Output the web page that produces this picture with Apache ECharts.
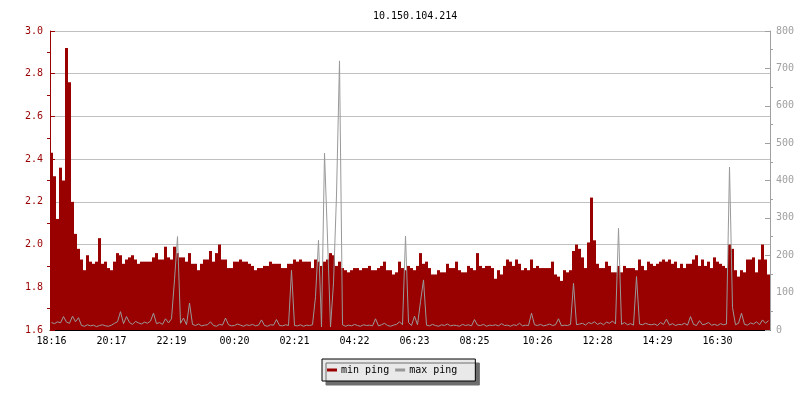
<!DOCTYPE html>
<html>
<head>
<meta charset="utf-8">
<script src="https://cdn.jsdelivr.net/npm/echarts@6/dist/echarts.min.js"></script>
<style>
  html, body { margin: 0; padding: 0; background: #fff; }
  #chart { width: 800px; height: 400px; }
</style>
</head>
<body>
<div id="chart"></div>
<script>
// one sample every 6 minutes, 18:16 -> 18:16 next day
const minPing = [
  2.43, 2.32, 2.12, 2.36, 2.30, 2.92, 2.76, 2.20, 2.05, 1.98,
  1.93, 1.88, 1.95, 1.92, 1.91, 1.92, 2.03, 1.91, 1.92, 1.89,
  1.88, 1.92, 1.96, 1.95, 1.91, 1.93, 1.94, 1.95, 1.93, 1.91,
  1.92, 1.92, 1.92, 1.92, 1.94, 1.96, 1.93, 1.93, 1.99, 1.94,
  1.93, 1.99, 1.96, 1.94, 1.94, 1.92, 1.96, 1.91, 1.91, 1.88,
  1.91, 1.93, 1.93, 1.97, 1.92, 1.96, 2.00, 1.93, 1.93, 1.89,
  1.89, 1.92, 1.92, 1.93, 1.92, 1.92, 1.91, 1.90, 1.88, 1.89,
  1.89, 1.90, 1.90, 1.92, 1.91, 1.91, 1.91, 1.89, 1.89, 1.91,
  1.91, 1.93, 1.92, 1.93, 1.92, 1.92, 1.92, 1.89, 1.93, 1.92,
  1.90, 1.92, 1.93, 1.96, 1.95, 1.90, 1.92, 1.89, 1.88, 1.87,
  1.88, 1.89, 1.89, 1.88, 1.89, 1.89, 1.90, 1.88, 1.88, 1.89,
  1.90, 1.92, 1.88, 1.88, 1.86, 1.87, 1.92, 1.89, 1.88, 1.90,
  1.89, 1.88, 1.90, 1.96, 1.91, 1.92, 1.89, 1.86, 1.86, 1.88,
  1.87, 1.87, 1.91, 1.89, 1.89, 1.92, 1.88, 1.87, 1.87, 1.90,
  1.89, 1.88, 1.96, 1.90, 1.89, 1.90, 1.90, 1.89, 1.84, 1.88,
  1.86, 1.90, 1.93, 1.92, 1.90, 1.93, 1.91, 1.88, 1.89, 1.88,
  1.93, 1.89, 1.90, 1.89, 1.89, 1.89, 1.89, 1.92, 1.86, 1.85,
  1.83, 1.88, 1.87, 1.88, 1.97, 2.00, 1.98, 1.94, 1.89, 2.01,
  2.22, 2.02, 1.91, 1.89, 1.89, 1.92, 1.90, 1.87, 1.87, 1.90,
  1.87, 1.90, 1.89, 1.89, 1.89, 1.88, 1.93, 1.90, 1.88, 1.92,
  1.91, 1.90, 1.91, 1.92, 1.93, 1.92, 1.93, 1.91, 1.92, 1.89,
  1.91, 1.89, 1.91, 1.91, 1.93, 1.95, 1.90, 1.93, 1.90, 1.92,
  1.89, 1.94, 1.92, 1.91, 1.90, 1.89, 2.00, 1.98, 1.88, 1.85,
  1.88, 1.87, 1.93, 1.93, 1.94, 1.87, 1.93, 2.00, 1.93, 1.86
]
const maxPing = [
  20, 17, 22, 19, 36, 21, 18, 37, 22, 33,
  12, 10, 14, 11, 13, 9, 12, 14, 11, 10,
  13, 18, 22, 49, 17, 36, 20, 15, 23, 19,
  16, 21, 18, 24, 45, 17, 20, 15, 30, 19,
  30, 134, 250, 18, 32, 14, 72, 15, 12, 16,
  11, 13, 14, 22, 12, 10, 15, 13, 32, 14,
  11, 12, 16, 13, 10, 14, 12, 15, 11, 13,
  27, 12, 10, 14, 13, 28, 12, 11, 14, 12,
  160, 12, 11, 14, 10, 13, 12, 14, 89, 240,
  8, 473, 246, 8, 126, 361, 720, 14, 10, 13,
  11, 15, 12, 10, 14, 12, 13, 11, 30, 11,
  14, 18, 12, 10, 13, 15, 22, 14, 251, 20,
  12, 37, 14, 76, 134, 13, 11, 15, 12, 10,
  14, 12, 16, 11, 13, 12, 10, 15, 12, 14,
  11, 28, 13, 12, 15, 10, 13, 12, 14, 11,
  17, 12, 13, 10, 14, 12, 18, 11, 13, 12,
  45, 14, 12, 15, 11, 13, 16, 12, 14, 30,
  11, 13, 12, 15, 125, 14, 16, 18, 13, 20,
  17, 22, 15, 19, 14, 21, 18, 24, 16, 272,
  15, 20, 14, 17, 13, 143, 16, 14, 18, 15,
  14, 16, 12, 20, 15, 29, 13, 17, 12, 15,
  14, 18, 13, 36, 15, 12, 25, 14, 16, 20,
  13, 15, 12, 17, 14, 16, 436, 60, 14, 18,
  45, 15, 13, 19, 16, 22, 14, 27, 18, 25
]
const tickLabels = ['18:16', '20:17', '22:19', '00:20', '02:21', '04:22', '06:23', '08:25', '10:26', '12:28', '14:29', '16:30']
const tickIndex = [0, 20, 40, 61, 81, 101, 121, 141, 162, 182, 202, 222]

const mono = '"DejaVu Sans Mono", monospace'
const red = '#990000'
const grey = '#999999'
const categories = minPing.map((v, i) => i)
const showTick = (index) => tickIndex.indexOf(index) !== -1

const chart = echarts.init(document.getElementById('chart'))
const option = {
  animation: false,
  backgroundColor: '#fff',
  title: {
    text: '10.150.104.214',
    left: 368,
    top: 6,
    textStyle: { fontFamily: mono, fontSize: 10, fontWeight: 'normal', color: '#000' }
  },
  legend: {
    left: 322,
    top: 359,
    padding: [6, 18, 6, 5],
    itemGap: 6,
    itemWidth: 10,
    itemHeight: 3,
    icon: 'rect',
    backgroundColor: '#e9e9e9',
    borderColor: '#000',
    borderWidth: 1,
    borderRadius: 0,
    shadowColor: '#6e6e6e',
    shadowBlur: 0,
    shadowOffsetX: 4,
    shadowOffsetY: 4,
    textStyle: { fontFamily: mono, fontSize: 10, color: '#000', padding: [0, 0, 0, -1] },
    data: ['min ping', 'max ping']
  },
  grid: { left: 50, right: 30, top: 31, bottom: 70 },
  xAxis: {
    type: 'category',
    data: categories,
    boundaryGap: true,
    axisLine: { lineStyle: { color: '#000', width: 1 } },
    axisTick: { inside: true, length: 5, alignWithLabel: true, interval: showTick, lineStyle: { color: '#000' } },
    axisLabel: {
      interval: showTick,
      margin: 6,
      color: '#000',
      fontFamily: mono,
      fontSize: 10,
      formatter: (value, index) => tickLabels[tickIndex.indexOf(index)] || ''
    },
    splitLine: { show: false }
  },
  yAxis: [{
    type: 'value',
    min: 1.6,
    max: 3.0,
    interval: 0.2,
    axisLine: { show: true, lineStyle: { color: red } },
    axisTick: { show: true, inside: true, length: 5, lineStyle: { color: red } },
    minorTick: { show: true, splitNumber: 2, length: -3, lineStyle: { color: red } },
    axisLabel: { color: red, fontFamily: mono, fontSize: 10, margin: 7, formatter: (v) => v.toFixed(1) },
    splitLine: { show: true, lineStyle: { color: '#c0c0c0', width: 1 } }
  }, {
    type: 'value',
    position: 'right',
    min: 0,
    max: 800,
    interval: 100,
    axisLine: { show: true, lineStyle: { color: '#a0a0a0' } },
    axisTick: { show: true, inside: true, length: 5, lineStyle: { color: '#a0a0a0' } },
    minorTick: { show: true, splitNumber: 2, length: -3, lineStyle: { color: '#a0a0a0' } },
    axisLabel: { color: '#a0a0a0', fontFamily: mono, fontSize: 10, margin: 6 },
    splitLine: { show: false }
  }],
  series: [{
    name: 'min ping',
    type: 'bar',
    data: minPing,
    yAxisIndex: 0,
    barWidth: '100%',
    barCategoryGap: '0%',
    itemStyle: { color: red }
  }, {
    name: 'max ping',
    type: 'line',
    data: maxPing,
    yAxisIndex: 1,
    showSymbol: false,
    symbol: 'none',
    lineStyle: { color: grey, width: 1 },
    itemStyle: { color: grey }
  }]
}
chart.setOption(option)
</script>
</body>
</html>
